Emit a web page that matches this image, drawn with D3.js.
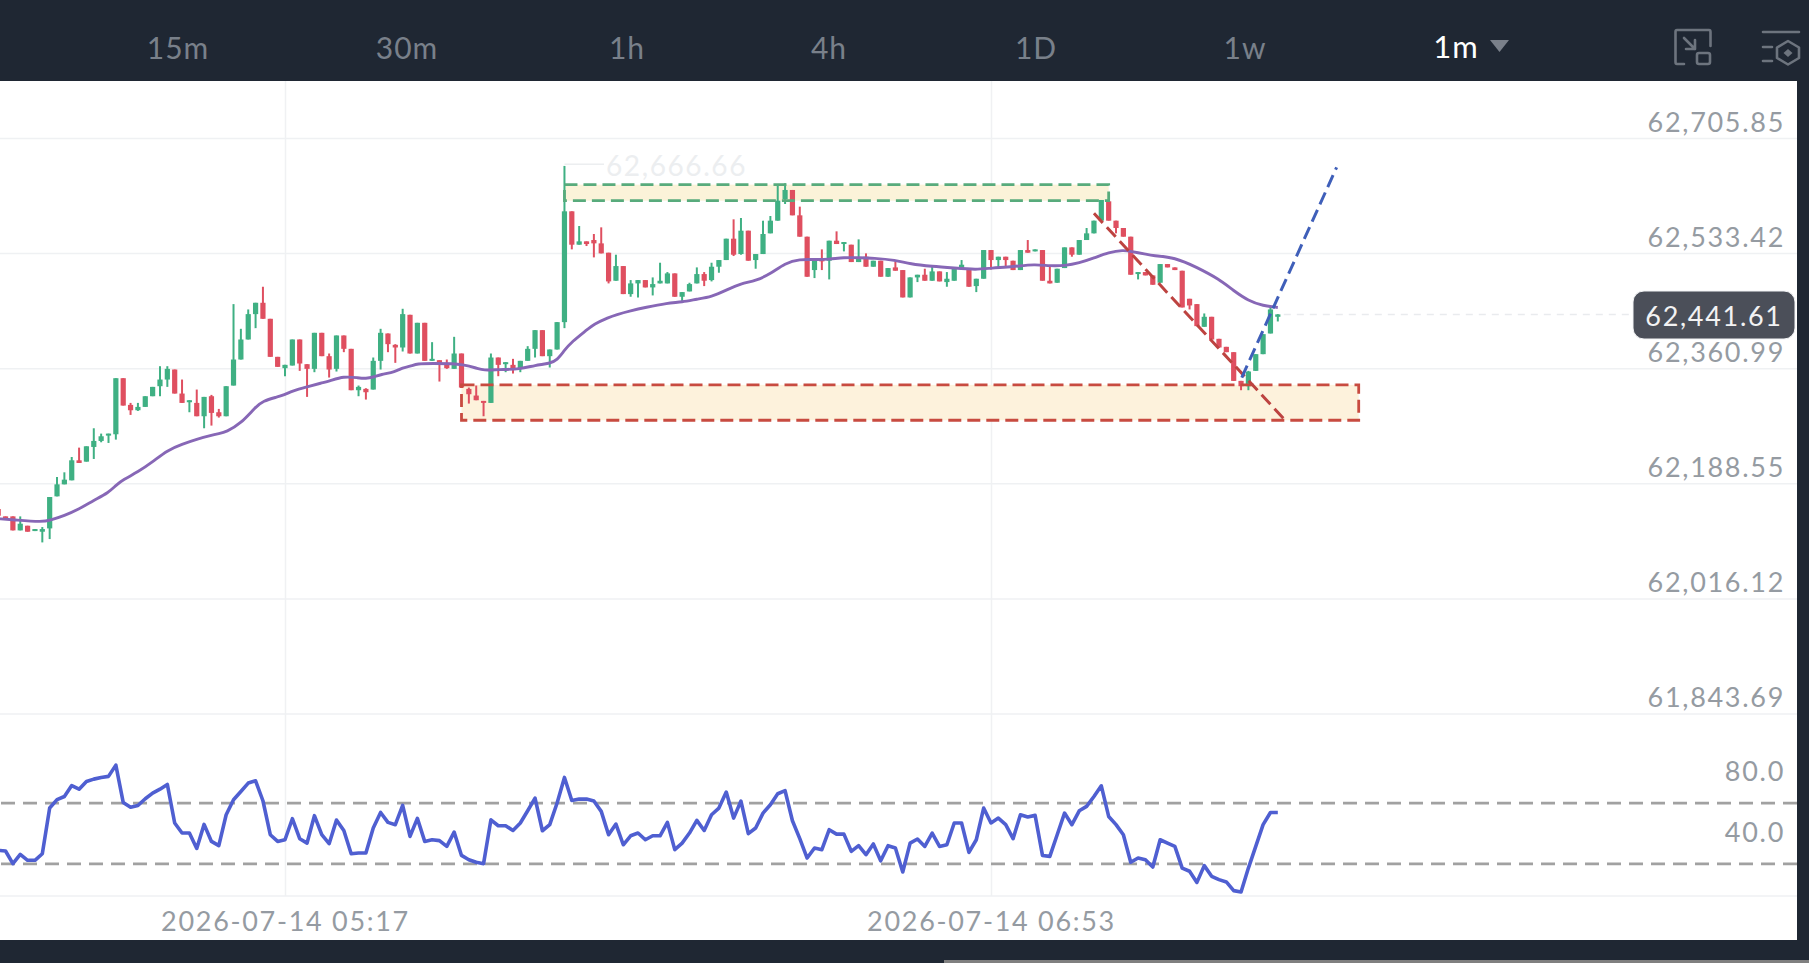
<!DOCTYPE html>
<html>
<head>
<meta charset="utf-8">
<script src="https://cdn.jsdelivr.net/npm/d3@7"></script>
<style>
  html, body { margin: 0; padding: 0; background: #1f2733; overflow: hidden; }
  svg { display: block; }
  text { font-family: Lato, "Open Sans", sans-serif; }
</style>
</head>
<body>
<div id="chart"></div>
<script>
// candles, one minute each, index 0 is 05:17
var firstIndex = -39;
var opens = [
  62150,62139,62139,62118,62125,62117,62116,62121,62169,62187,
  62193,62223,62221,62243,62252,62260,62262,62346,62306,62298,
  62303,62319,62334,62344,62359,62323,62310,62309,62289,62319,
  62295,62289,62335,62374,62404,62442,62459,62435,62378,62361,
  62365,62404,62367,62360,62414,62379,62360,62410,62390,62328,
  62330,62329,62372,62413,62396,62392,62441,62383,62429,62372,
  62373,62369,62360,62383,62330,62320,62312,62309,62377,62367,
  62366,62360,62372,62390,62418,62379,62389,62430,62596,62546,
  62551,62553,62548,62534,62492,62514,62472,62488,62493,62482,
  62488,62488,62503,62468,62476,62488,62502,62493,62513,62523,
  62555,62532,62567,62523,62532,62563,62582,62614,62628,62590,
  62558,62508,62524,62522,62552,62548,62546,62520,62528,62513,
  62522,62498,62512,62508,62467,62497,62501,62492,62506,62490,
  62492,62511,62510,62484,62495,62538,62523,62528,62522,62508,
  62538,62536,62538,62492,62489,62511,62542,62531,62553,62563,
  62582,62611,62582,62571,62558,62502,62505,62500,62489,62517,
  62512,62507,62465,62457,62423,62438,62405,62393,62385,62342,
  62334,62357,62382,62413,62438
];
var highs = [
  62150,62139,62139,62139,62125,62120,62123,62168,62198,62205,
  62228,62242,62244,62271,62263,62263,62346,62346,62309,62309,
  62319,62333,62364,62364,62359,62344,62313,62329,62318,62321,
  62300,62334,62457,62420,62449,62459,62483,62435,62378,62366,
  62404,62404,62367,62414,62414,62383,62410,62410,62390,62335,
  62331,62377,62420,62413,62397,62450,62441,62429,62429,62400,
  62373,62374,62408,62383,62332,62335,62312,62383,62377,62370,
  62375,62372,62394,62418,62418,62389,62430,62664,62596,62574,
  62551,62562,62572,62534,62531,62514,62493,62493,62493,62497,
  62519,62505,62503,62475,62489,62512,62505,62519,62523,62555,
  62584,62586,62567,62532,62582,62589,62634,62638,62628,62603,
  62558,62524,62539,62552,62566,62550,62546,62554,62533,62522,
  62522,62511,62521,62508,62497,62501,62510,62515,62506,62505,
  62511,62523,62510,62495,62538,62538,62528,62528,62522,62538,
  62553,62539,62538,62514,62510,62542,62542,62553,62571,62582,
  62613,62611,62582,62571,62558,62505,62505,62500,62517,62517,
  62512,62507,62465,62457,62443,62438,62405,62393,62385,62342,
  62357,62382,62412,62453,62442
];
var lows = [
  62140,62134,62118,62118,62116,62117,62100,62105,62169,62187,
  62193,62219,62221,62225,62250,62249,62254,62305,62291,62297,
  62303,62319,62319,62333,62323,62309,62295,62289,62271,62275,
  62287,62289,62335,62374,62404,62421,62435,62378,62363,62349,
  62365,62357,62318,62355,62379,62347,62356,62385,62328,62319,
  62314,62329,62359,62385,62369,62386,62383,62383,62372,62372,
  62341,62360,62360,62332,62308,62313,62289,62309,62349,62355,
  62353,62355,62372,62377,62379,62362,62389,62421,62539,62546,
  62544,62527,62533,62488,62492,62472,62468,62467,62482,62470,
  62488,62488,62468,62460,62476,62488,62484,62491,62504,62523,
  62529,62531,62522,62510,62532,62563,62582,62607,62590,62558,
  62498,62496,62508,62494,62547,62536,62520,62520,62513,62513,
  62498,62498,62507,62467,62467,62490,62492,62492,62491,62483,
  62492,62511,62483,62475,62495,62509,62512,62512,62508,62508,
  62534,62536,62492,62488,62489,62511,62528,62531,62553,62563,
  62582,62582,62563,62558,62501,62494,62500,62486,62489,62512,
  62508,62452,62449,62424,62423,62404,62392,62385,62342,62328,
  62328,62357,62382,62413,62431
];
var closes = [
  62140,62134,62118,62128,62116,62120,62120,62168,62187,62194,
  62223,62219,62244,62252,62259,62263,62346,62305,62298,62303,
  62319,62333,62344,62360,62323,62309,62313,62289,62318,62294,
  62289,62334,62374,62404,62442,62459,62435,62378,62363,62366,
  62404,62368,62360,62414,62379,62359,62410,62390,62328,62333,
  62325,62372,62414,62397,62392,62442,62383,62429,62372,62375,
  62369,62361,62383,62332,62322,62313,62309,62377,62366,62370,
  62360,62372,62390,62418,62379,62389,62430,62596,62546,62551,
  62547,62548,62533,62491,62514,62472,62488,62493,62482,62487,
  62492,62503,62468,62475,62487,62502,62492,62513,62523,62555,
  62531,62567,62522,62532,62562,62582,62612,62628,62590,62558,
  62498,62522,62522,62552,62547,62550,62520,62526,62513,62522,
  62498,62511,62507,62467,62497,62501,62492,62506,62491,62495,
  62511,62516,62483,62495,62538,62523,62528,62523,62508,62538,
  62534,62539,62492,62488,62510,62542,62531,62553,62563,62582,
  62613,62582,62571,62558,62501,62505,62500,62486,62517,62512,
  62508,62452,62455,62424,62438,62404,62392,62385,62342,62334,
  62356,62382,62412,62449,62441.61
];

var maIndex = [-39,-37,-33,-32,-30,-28,-26,-24,-23,-22,-20,-18,-16,-14,-12,-10,-9,-8,-6,-4,-3,-1,0,1,3,5,6,8,10,11,12,13,15,16,17,18,20,23,24,26,27,29,32,34,36,37,38,39,41,42,44,45,47,49,52,54,56,58,60,62,64,66,68,70,72,74,76,78,80,83,85,88,91,94,96,99,102,104,106,108,110,112,114,115,117,118,121,124,127,129,131,133,135];
var maValues = [62135.5,62134,62130.5,62133,62140,62150,62163,62174.5,62185.5,62194,62205.5,62220.5,62238,62247,62254.5,62260.5,62263,62265.5,62278,62303,62312,62318,62321.5,62327,62333,62339,62341.5,62349,62346.5,62345.5,62347.5,62351.5,62355.5,62362,62363.5,62368,62368,62368,62366.5,62361.5,62357.5,62359,62359.5,62365.5,62368,62373,62388,62400.5,62418,62427,62437,62441,62447,62452,62458.5,62460,62464.5,62468,62478,62488,62492,62502,62518.5,62524.5,62523.5,62524,62527,62526.5,62526,62523,62517,62513.5,62511,62508.5,62511,62513,62517,62514,62514.5,62518.5,62526,62534.5,62538,62536,62532,62529.5,62527,62512,62494.5,62477,62462,62454.5,62452];

// oscillator pane, one value per candle
var rsiValues = [
  38.9,38.5,30.2,36.3,32.4,32.4,36.7,66.7,72.2,74.3,
  81.5,79.1,84.2,85.7,86.8,87.5,94.9,70.4,67.3,68.4,
  72.8,76.5,79.1,82.2,56.9,50.3,50.3,40.2,56.0,44.8,
  42.0,62.3,72.2,77.6,83.1,84.6,71.5,49.2,44.8,45.9,
  59.7,46.6,43.7,61.7,49.2,43.3,58.8,52.0,36.7,37.2,
  37.2,53.6,63.8,57.3,55.8,68.4,48.1,59.9,44.8,45.9,
  45.3,41.5,50.9,35.6,32.8,31.1,30.2,59.0,55.1,55.1,
  52.0,56.9,64.9,73.2,51.8,55.8,70.0,86.8,71.7,72.6,
  72.6,71.3,64.5,49.2,56.2,42.6,48.5,50.3,45.9,
  48.5,48.5,57.3,39.4,43.7,50.3,58.6,52.0,62.3,66.7,
  77.2,60.1,71.3,49.9,53.6,63.4,68.9,76.1,78.1,58.4,
  46.6,33.9,40.5,39.4,52.5,49.6,49.6,38.3,42.0,36.1,
  43.1,32.1,42.0,40.5,24.7,43.7,46.4,41.5,50.3,41.5,
  42.6,56.9,56.9,37.6,45.9,66.7,56.9,60.1,55.8,46.6,
  62.3,60.8,61.9,35.6,35.0,49.2,63.4,55.8,64.9,67.8,
  74.3,81.3,61.2,55.8,49.2,31.1,33.9,32.8,28.0,45.9,
  43.7,41.5,27.3,25.2,17.9,28.9,21.9,19.7,18.2,12.5,
  11.6,27.3,41.5,55.8,63.8,63.8
];

var priceTicks = [62705.85, 62533.42, 62360.99, 62188.55, 62016.12, 61843.69];
var rsiTicks = [80, 40];
var rsiLevels = [70, 30];
var timeTicks = [0, 96];
var timeLabels = ["2026-07-14 05:17", "2026-07-14 06:53"];
var periods = ["15m", "30m", "1h", "4h", "1D", "1w"];
var periodCenters = [178, 407, 627, 829, 1036, 1245];

var lastPrice = 62441.61;
var peakPrice = 62666.66;
var peakIndex = 38;

// drawn tools on the chart
var greenZone = { i0: 38, i1: 112, top: 62636, bottom: 62612 };
var redZone = { i0: 24, i1: 146, top: 62336, bottom: 62283 };
var downLine = { i0: 110, p0: 62593, i1: 136, p1: 62283 };
var upLine = { i0: 130.1, p0: 62347, i1: 143, p1: 62662 };

var width = 1809, height = 963;
var paneRight = 1797, paneTop = 81, paneBottom = 940;

var xScale = d3.scaleLinear().domain([0, 96]).range([285, 991]);
var yScale = d3.scaleLinear().domain([61843.69, 62705.85]).range([713.5, 138]);
var rsiScale = d3.scaleLinear().domain([8.5, 128]).range([896.7, 714.7]);

var candles = opens.map((o, k) => ({
  i: firstIndex + k, o: o, h: highs[k], l: lows[k], c: closes[k]
}));

var GREEN = "#3fb083", RED = "#df4f60";

var svg = d3.select("#chart").append("svg")
  .attr("width", width)
  .attr("height", height);

svg.append("rect").attr("width", width).attr("height", height).attr("fill", "#1f2733");
svg.append("rect")
  .attr("y", paneTop)
  .attr("width", paneRight)
  .attr("height", paneBottom - paneTop)
  .attr("fill", "#ffffff");
svg.append("rect")
  .attr("x", 944).attr("y", 960)
  .attr("width", width - 944).attr("height", 3)
  .attr("fill", "#808080");

// axes
var labelColor = "#959ba2";
var labelSize = 27, labelSpacing = 1.7;

var xAxis = d3.axisBottom(xScale)
  .tickValues(timeTicks)
  .tickSize(-(896 - paneTop))
  .tickPadding(0)
  .tickFormat((d, k) => timeLabels[k]);
var xG = svg.append("g").attr("transform", "translate(0,896)").call(xAxis);
xG.select(".domain").remove();
xG.selectAll("line").attr("stroke", "#f0f1f3").attr("stroke-width", 1.5);
xG.selectAll("text")
  .attr("y", 26).attr("dy", "0.35em")
  .attr("fill", labelColor)
  .attr("font-size", labelSize)
  .attr("letter-spacing", labelSpacing);

var yAxis = d3.axisLeft(yScale)
  .tickValues(priceTicks)
  .tickSize(paneRight)
  .tickPadding(0)
  .tickFormat(d3.format(",.2f"));
var yG = svg.append("g").attr("transform", `translate(${paneRight},0)`).call(yAxis);
yG.select(".domain").remove();
yG.selectAll("line").attr("stroke", "#eff1f3").attr("stroke-width", 1.5);
yG.selectAll("text")
  .attr("x", -12).attr("y", -16).attr("dy", "0.35em")
  .attr("text-anchor", "end")
  .attr("fill", labelColor)
  .attr("font-size", labelSize)
  .attr("letter-spacing", labelSpacing);

svg.append("line")
  .attr("x1", 0).attr("x2", paneRight)
  .attr("y1", 896).attr("y2", 896)
  .attr("stroke", "#eff1f3").attr("stroke-width", 1.5);

var rsiAxis = d3.axisLeft(rsiScale)
  .tickValues(rsiTicks)
  .tickSize(0)
  .tickPadding(0)
  .tickFormat(d3.format(".1f"));
var rsiG = svg.append("g").attr("transform", `translate(${paneRight},0)`).call(rsiAxis);
rsiG.select(".domain").remove();
rsiG.selectAll("text")
  .attr("x", -12).attr("y", -17).attr("dy", "0.35em")
  .attr("text-anchor", "end")
  .attr("fill", labelColor)
  .attr("font-size", labelSize)
  .attr("letter-spacing", labelSpacing);

// zone fills go under the candles
function zoneFill(z, color) {
  svg.append("rect")
    .attr("x", xScale(z.i0))
    .attr("y", yScale(z.top))
    .attr("width", xScale(z.i1) - xScale(z.i0))
    .attr("height", yScale(z.bottom) - yScale(z.top))
    .attr("fill", color);
}
zoneFill(greenZone, "#fbf3d9");
zoneFill(redZone, "#fdf2dc");

// last price dashes
svg.append("line")
  .attr("x1", xScale(candles[candles.length - 1].i) + 6).attr("x2", 1633)
  .attr("y1", yScale(lastPrice)).attr("y2", yScale(lastPrice))
  .attr("stroke", "#e9ebee").attr("stroke-width", 1.5)
  .attr("stroke-dasharray", "7 6");

// candles
var candleG = svg.append("g");
candleG.selectAll(".wick").data(candles).enter().append("line")
  .attr("x1", d => xScale(d.i)).attr("x2", d => xScale(d.i))
  .attr("y1", d => yScale(d.h)).attr("y2", d => yScale(d.l))
  .attr("stroke", d => d.c >= d.o ? GREEN : RED)
  .attr("stroke-width", 2);
candleG.selectAll(".body").data(candles).enter().append("rect")
  .attr("x", d => xScale(d.i) - 2.6)
  .attr("width", 5.2)
  .attr("y", d => yScale(Math.max(d.o, d.c)))
  .attr("height", d => Math.max(2, Math.abs(yScale(d.o) - yScale(d.c))))
  .attr("fill", d => d.c >= d.o ? GREEN : RED);

// moving average
var maLine = d3.line()
  .x(d => xScale(d[0]))
  .y(d => yScale(d[1]))
  .curve(d3.curveBasis);
svg.append("path")
  .attr("d", maLine(d3.zip(maIndex, maValues)))
  .attr("fill", "none")
  .attr("stroke", "#8767b6")
  .attr("stroke-width", 2.9);

// highest price marker
svg.append("line")
  .attr("x1", xScale(peakIndex)).attr("x2", 604)
  .attr("y1", yScale(peakPrice)).attr("y2", yScale(peakPrice))
  .attr("stroke", "#eceef0").attr("stroke-width", 1.5);
svg.append("text")
  .attr("x", 606).attr("y", yScale(peakPrice) + 2).attr("dy", "0.35em")
  .attr("fill", "#eceef0")
  .attr("font-size", 28)
  .attr("letter-spacing", 1.6)
  .text(d3.format(",.2f")(peakPrice));

// zone outlines and trend lines
function zoneStroke(z, color) {
  svg.append("rect")
    .attr("x", xScale(z.i0))
    .attr("y", yScale(z.top))
    .attr("width", xScale(z.i1) - xScale(z.i0))
    .attr("height", yScale(z.bottom) - yScale(z.top))
    .attr("fill", "none")
    .attr("stroke", color)
    .attr("stroke-width", 2.8)
    .attr("stroke-dasharray", "13 6");
}
zoneStroke(greenZone, "#58ab7c");
zoneStroke(redZone, "#c84b40");

function trendLine(t, color) {
  svg.append("line")
    .attr("x1", xScale(t.i0)).attr("y1", yScale(t.p0))
    .attr("x2", xScale(t.i1)).attr("y2", yScale(t.p1))
    .attr("stroke", color)
    .attr("stroke-width", 3)
    .attr("stroke-dasharray", "13 6");
}
trendLine(downLine, "#bd4340");
trendLine(upLine, "#3f5fb9");

// last price tag
svg.append("rect")
  .attr("x", 1633).attr("y", 291)
  .attr("width", 162).attr("height", 48)
  .attr("rx", 11)
  .attr("fill", "#4b4f59")
  .attr("stroke", "#f2f3f5").attr("stroke-width", 1);
svg.append("text")
  .attr("x", 1714).attr("y", 316.5).attr("dy", "0.35em")
  .attr("text-anchor", "middle")
  .attr("fill", "#f2f2f3")
  .attr("font-size", labelSize)
  .attr("letter-spacing", labelSpacing)
  .text(d3.format(",.2f")(lastPrice));

// oscillator
svg.selectAll(".level").data(rsiLevels).enter().append("line")
  .attr("x1", 1).attr("x2", paneRight)
  .attr("y1", d => rsiScale(d)).attr("y2", d => rsiScale(d))
  .attr("stroke", "#a1a1a1")
  .attr("stroke-width", 2.8)
  .attr("stroke-dasharray", "14 8");

var rsiLine = d3.line()
  .x((d, k) => xScale(firstIndex + k))
  .y(d => rsiScale(d));
svg.append("path")
  .attr("d", rsiLine(rsiValues))
  .attr("fill", "none")
  .attr("stroke", "#4f5fd1")
  .attr("stroke-width", 3.6)
  .attr("stroke-linejoin", "round");

// top bar
svg.selectAll(".period").data(periods).enter().append("text")
  .attr("x", (d, k) => periodCenters[k])
  .attr("y", 48).attr("dy", "0.35em")
  .attr("text-anchor", "middle")
  .attr("fill", "#79808a")
  .attr("font-size", 30)
  .attr("letter-spacing", 1)
  .text(d => d);
svg.append("text")
  .attr("x", 1456).attr("y", 47.5).attr("dy", "0.35em")
  .attr("text-anchor", "middle")
  .attr("fill", "#ffffff")
  .attr("font-size", 31)
  .attr("letter-spacing", 1)
  .text("1m");
svg.append("path").attr("d", "M1490,40 L1509,40 L1499.5,52 Z").attr("fill", "#7a808a");

var icons = svg.append("g")
  .attr("fill", "none")
  .attr("stroke", "#6d747e")
  .attr("stroke-width", 2.6)
  .attr("stroke-linecap", "round")
  .attr("stroke-linejoin", "round");
icons.append("path").attr("d", "M1684,64 L1677,64 Q1675.5,64 1675.5,62 L1675.5,32 Q1675.5,30 1677,30 L1709,30 Q1710.5,30 1710.5,32 L1710.5,46");
icons.append("path").attr("d", "M1684,38 L1695,49 M1695,40 L1695,49 L1686,49");
icons.append("rect").attr("x", 1697).attr("y", 53).attr("width", 13).attr("height", 11).attr("rx", 2);
icons.append("path").attr("d", "M1763,32 L1799,32 M1763,47 L1772,47 M1763,61 L1772,61");
icons.append("path").attr("d", "M1788,41 L1799,47.5 L1799,58 L1788,64.5 L1777,58 L1777,47.5 Z");
svg.append("path").attr("d", "M1788,49 L1792.5,53 L1788,57 L1783.5,53 Z").attr("fill", "#6d747e");
</script>
</body>
</html>
